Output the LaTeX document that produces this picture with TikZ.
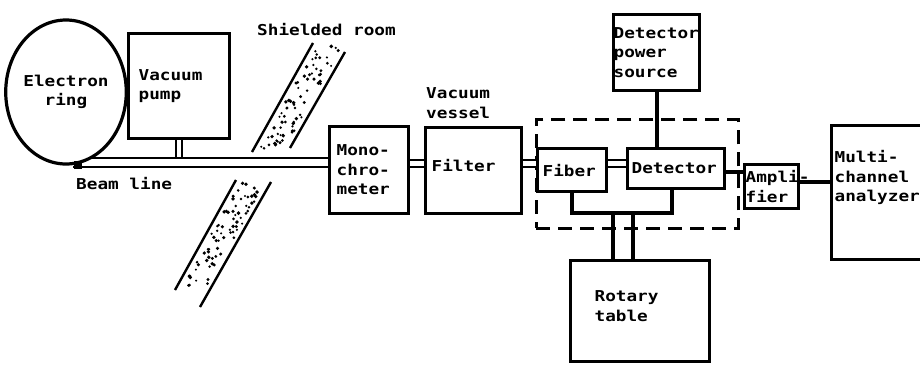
\documentclass[tikz,border=0pt]{standalone}
\usepackage{fontspec}
\newfontfamily\dotfont[FakeStretch=1.18]{DejaVu Sans Mono}
\newcommand\dotstyle{\dotfont\bfseries\fontsize{15}{19.5}\selectfont}
\usetikzlibrary{shapes.geometric}

\begin{document}
\begin{tikzpicture}[
x=1pt, y=-1pt, box/.style={rectangle, draw, line width=3.2pt, anchor=north west, align=left, inner ysep=0pt, font=\dotstyle}, ringbox/.style={ellipse, draw, line width=3.2pt, minimum width=106pt, minimum height=144pt, inner sep=0pt, align=center, font=\dotstyle}, housing/.style={rectangle, draw, dash pattern=on 14pt off 8pt, line width=2.8pt, anchor=north west, minimum width=202pt, minimum height=109pt, inner sep=0pt}, lbl/.style={anchor=west, inner sep=0pt, align=left, font=\dotstyle}, pipe/.style={double, line width=2.4pt, double distance=4.2pt}, stem/.style={double, line width=2pt, double distance=3.6pt}, rail/.style={line width=2.8pt}, wire/.style={line width=4pt}, wall/.style={line width=2.4pt} ]
\clip (0,0) rectangle (920,364);
\node[ringbox] (ring) at (66,92) {Electron\\ring};
\node[box, minimum width=101pt, minimum height=105pt, inner xsep=10pt, text width=81pt] (pump) at (127,32) {Vacuum\\pump};
\node[box, minimum width=79pt, minimum height=87pt, inner xsep=7pt, text width=65pt] (mono) at (328,125) {Mono-\\chro-\\meter};
\node[box, minimum width=96pt, minimum height=86pt, inner xsep=6pt, text width=84pt, text depth=10pt] (filter) at (424,126) {Filter};
\node[housing] (shell) at (535,118) {};
\node[box, minimum width=69pt, minimum height=43pt, inner xsep=5pt, text width=59pt] (fiber) at (536,147) {Fiber};
\node[box, minimum width=97pt, minimum height=40pt, inner xsep=4pt, text width=89pt] (det) at (626,147) {Detector};
\node[box, minimum width=86pt, minimum height=76pt, inner xsep=0pt, text width=86pt] (power) at (612,13) {Detector\\power\\source};
\node[box, minimum width=54pt, minimum height=44pt, inner xsep=1pt, text width=52pt] (amp) at (743,163) {\mbox{Ampli-}\\fier};
\node[box, minimum width=100pt, minimum height=134pt, inner xsep=3pt, text width=94pt, text depth=72pt] (mca) at (830,124) {Multi-\\channel\\analyzer};
\node[box, minimum width=139pt, minimum height=101pt, inner xsep=24pt, text width=91pt, text depth=30pt] (rotary) at (569,259) {Rotary\\table};
\node[lbl] (shield) at (257,30) {Shielded room};
\node[lbl] (vessel) at (426,103) {Vacuum\\vessel};
\node[lbl] (beam) at (76,184) {Beam line};
\coordinate (beamtop) at (88,158);
\coordinate (beambot) at (73,167);
\coordinate (axis) at (0,163.5);
\draw[stem] (pump.south) -- (pump.south |- beamtop);
\draw[rail] (beamtop) -- (beamtop -| mono.west);
\draw[rail] (beambot) -- (beambot -| mono.west);
\fill (74,161) rectangle (82,169);
\draw[pipe] (mono.east |- axis) -- (filter.west |- axis);
\draw[pipe] (filter.east |- axis) -- (fiber.west |- axis);
\draw[pipe] (fiber.east |- axis) -- (det.west |- axis);
\draw[wire] (power.south) -- (power.south |- det.north);
\draw[wire] ([yshift=-3pt]det.east) -- ([yshift=-3pt]det.east -| amp.west);
\draw[wire] ([yshift=5pt]amp.east) -- ([yshift=5pt]amp.east -| mca.west);
\draw[wire] (fiber.south) -- ++(0,20) coordinate (hinge) -| ([xshift=-4pt]det.south);
\draw[wire] ([xshift=41pt]hinge) -- ([xshift=41pt]hinge |- rotary.north);
\draw[wire] ([xshift=61pt]hinge) -- ([xshift=61pt]hinge |- rotary.north);
\draw[wall] (252,152) -- (313,43);
\draw[wall] (290,148) -- (345,52);
\draw[wall] (236,180) -- (175,290);
\draw[wall] (271,182) -- (200,307);
\pgfmathsetseed{7}
\foreach \k in {1,...,70} {
  \pgfmathsetmacro\ta{0.03+0.94*rnd}
  \pgfmathsetmacro\sa{0.14+0.72*rnd}
  \pgfmathsetmacro\ra{1.1+0.9*rnd}
  \fill (252+61*\ta+36*\sa, 152-109*\ta) circle (\ra pt);
}
\foreach \k in {1,...,72} {
  \pgfmathsetmacro\ta{0.03+0.94*rnd}
  \pgfmathsetmacro\sa{0.14+0.72*rnd}
  \pgfmathsetmacro\ra{1.1+0.9*rnd}
  \fill (236-61*\ta+36*\sa, 180+110*\ta) circle (\ra pt);
}
\end{tikzpicture}
\end{document}
